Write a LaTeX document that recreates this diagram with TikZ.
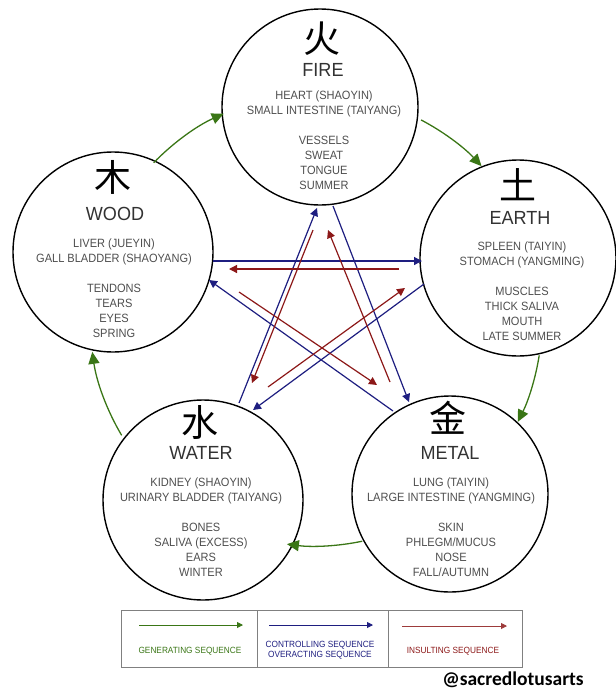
\documentclass[tikz,border=0pt]{standalone}
\usepackage{fontspec}
\setmainfont{Liberation Sans}
\newfontfamily\bodyfont[FakeStretch=0.92]{Liberation Sans}
\newfontfamily\ttlfont[FakeStretch=0.95]{Liberation Sans}
\newfontfamily\cjkfont{Noto Sans CJK SC}
\newfontfamily\wmfont{Carlito}
\usetikzlibrary{arrows.meta}
\definecolor{genc}{RGB}{58,118,22}
\definecolor{ctlc}{RGB}{30,30,128}
\definecolor{insc}{RGB}{140,24,24}
\definecolor{bodygray}{RGB}{78,78,78}
\definecolor{titlegray}{RGB}{50,50,50}
\tikzset{
 elem/.style={circle, draw=black, line width=1.4pt, inner sep=0pt, minimum size=#1},
 elem/.default=196pt,
 glyph/.style={font=\cjkfont\fontsize{37}{40}\selectfont, text=black, inner sep=0pt},
 ttl/.style={font=\ttlfont\fontsize{19}{22}\selectfont, text=titlegray, inner sep=0pt, anchor=base},
 bdy/.style={font=\bodyfont\fontsize{12}{15}\selectfont, text=bodygray, inner sep=0pt, anchor=base},
 genarrow/.style={draw=genc, line width=1.3pt, -{Triangle[length=12pt,width=11pt]}},
 ctlarrow/.style={draw=ctlc, line width=1.2pt, -{Triangle[length=8pt,width=8pt]}},
 insarrow/.style={draw=insc, line width=1.2pt, -{Triangle[length=8pt,width=8pt]}},
 legbox/.style={draw=gray, line width=1pt, minimum width=#1, minimum height=57pt, inner sep=0pt},
 legbox/.default=130pt,
 legtxt/.style={font=\bodyfont\fontsize{9}{10}\selectfont, inner sep=0pt, anchor=base},
 legarrow/.style={line width=0.9pt, -{Triangle[length=6pt,width=6pt]}},
}
\begin{document}
\begin{tikzpicture}[x=1pt,y=-1pt]
\useasboundingbox (0,0) rectangle (616,689);

% element circles
\node[elem=196pt] (fire)  at (320,107) {};
\node[elem=200pt] (wood)  at (113,252) {};
\node[elem=196pt] (earth) at (518,258) {};
\node[elem=200pt] (water) at (203,500) {};
\node[elem=196pt] (metal) at (450,494) {};

% FIRE
\node[glyph] (fireg) at (322,39) {火};
\node[ttl] (firet) at (323,76) {FIRE};
\node[bdy] (fire1) at (324,99) {HEART (SHAOYIN)};
\node[bdy] (fire2) at (324,114) {SMALL INTESTINE (TAIYANG)};
\node[bdy] (fire3) at (324,144) {VESSELS};
\node[bdy] (fire4) at (324,159) {SWEAT};
\node[bdy] (fire5) at (324,174) {TONGUE};
\node[bdy] (fire6) at (324,189) {SUMMER};

% WOOD
\node[glyph] (woodg) at (113,177) {木};
\node[ttl] (woodt) at (115,220) {WOOD};
\node[bdy] (wood1) at (114,247) {LIVER (JUEYIN)};
\node[bdy] (wood2) at (114,262) {GALL BLADDER (SHAOYANG)};
\node[bdy] (wood3) at (114,292) {TENDONS};
\node[bdy] (wood4) at (114,307) {TEARS};
\node[bdy] (wood5) at (114,322) {EYES};
\node[bdy] (wood6) at (114,337) {SPRING};

% EARTH
\node[glyph] (earthg) at (518,185) {土};
\node[ttl] (eartht) at (520,224) {EARTH};
\node[bdy] (earth1) at (522,250) {SPLEEN (TAIYIN)};
\node[bdy] (earth2) at (522,265) {STOMACH (YANGMING)};
\node[bdy] (earth3) at (522,295) {MUSCLES};
\node[bdy] (earth4) at (522,310) {THICK SALIVA};
\node[bdy] (earth5) at (522,325) {MOUTH};
\node[bdy] (earth6) at (522,340) {LATE SUMMER};

% WATER
\node[glyph] (waterg) at (200,422) {水};
\node[ttl] (watert) at (201,459) {WATER};
\node[bdy] (water1) at (201,486) {KIDNEY (SHAOYIN)};
\node[bdy] (water2) at (201,501) {URINARY BLADDER (TAIYANG)};
\node[bdy] (water3) at (201,531) {BONES};
\node[bdy] (water4) at (201,546) {SALIVA (EXCESS)};
\node[bdy] (water5) at (201,561) {EARS};
\node[bdy] (water6) at (201,576) {WINTER};

% METAL
\node[glyph] (metalg) at (448,418) {金};
\node[ttl] (metalt) at (450,459) {METAL};
\node[bdy] (metal1) at (451,486) {LUNG (TAIYIN)};
\node[bdy] (metal2) at (451,501) {LARGE INTESTINE (YANGMING)};
\node[bdy] (metal3) at (451,531) {SKIN};
\node[bdy] (metal4) at (451,546) {PHLEGM/MUCUS};
\node[bdy] (metal5) at (451,561) {NOSE};
\node[bdy] (metal6) at (451,576) {FALL/AUTUMN};

% generating sequence (outer arcs)
\coordinate (ctr) at (316,320);
\path (ctr) ++(224.1:226) coordinate (g1s);
\path (ctr) ++(-62.3:226) coordinate (g2s);
\path (ctr) ++(9.0:226) coordinate (g3s);
\path (ctr) ++(78.2:226) coordinate (g4s);
\path (ctr) ++(149.3:226) coordinate (g5s);
\draw[genarrow] (g1s) arc[start angle=224.1, end angle=245.9, radius=226];
\draw[genarrow] (g2s) arc[start angle=-62.3, end angle=-42.9, radius=226];
\draw[genarrow] (g3s) arc[start angle=9.0, end angle=26.8, radius=226];
\draw[genarrow] (g4s) arc[start angle=78.2, end angle=97.4, radius=226];
\draw[genarrow] (g5s) arc[start angle=149.3, end angle=171.9, radius=226];

% controlling sequence (blue)
\coordinate (b1s) at (213,261); \coordinate (b1e) at (422,261);
\coordinate (b2s) at (424,284); \coordinate (b2e) at (253,410);
\coordinate (b3s) at (239,403); \coordinate (b3e) at (317,208);
\coordinate (b4s) at (333,206); \coordinate (b4e) at (409,402);
\coordinate (b5s) at (393,411); \coordinate (b5e) at (209,280);
\draw[ctlarrow] (b1s) -- (b1e);
\draw[ctlarrow] (b2s) -- (b2e);
\draw[ctlarrow] (b3s) -- (b3e);
\draw[ctlarrow] (b4s) -- (b4e);
\draw[ctlarrow] (b5s) -- (b5e);

% insulting sequence (red)
\coordinate (r1s) at (399,269); \coordinate (r1e) at (229,269);
\coordinate (r2s) at (268,387); \coordinate (r2e) at (405,288);
\coordinate (r3s) at (313,230); \coordinate (r3e) at (252,383);
\coordinate (r4s) at (390,382); \coordinate (r4e) at (328,230);
\coordinate (r5s) at (239,292); \coordinate (r5e) at (377,385);
\draw[insarrow] (r1s) -- (r1e);
\draw[insarrow] (r2s) -- (r2e);
\draw[insarrow] (r3s) -- (r3e);
\draw[insarrow] (r4s) -- (r4e);
\draw[insarrow] (r5s) -- (r5e);

% legend
\node[legbox=136pt] (leg1) at (189,638.5) {};
\node[legbox=131pt] (leg2) at (322.5,638.5) {};
\node[legbox=134pt] (leg3) at (455,638.5) {};
\coordinate (lg1s) at (139,625); \coordinate (lg1e) at (243,625);
\coordinate (lg2s) at (269,625); \coordinate (lg2e) at (373,625);
\coordinate (lg3s) at (402,626); \coordinate (lg3e) at (507,626);
\draw[legarrow, draw=genc] (lg1s) -- (lg1e);
\draw[legarrow, draw=ctlc] (lg2s) -- (lg2e);
\draw[legarrow, draw=insc!85] (lg3s) -- (lg3e);
\node[legtxt, text=genc] (lt1) at (190,653) {GENERATING SEQUENCE};
\node[legtxt, text=ctlc] (lt2) at (320,647) {CONTROLLING SEQUENCE};
\node[legtxt, text=ctlc] (lt3) at (320,657) {OVERACTING SEQUENCE};
\node[legtxt, text=insc] (lt4) at (453,653) {INSULTING SEQUENCE};

% watermark
\node[font=\wmfont\bfseries\fontsize{19.5}{22}\selectfont, inner sep=0pt, anchor=base] (wm) at (513,685) {@sacredlotusarts};
\end{tikzpicture}
\end{document}
